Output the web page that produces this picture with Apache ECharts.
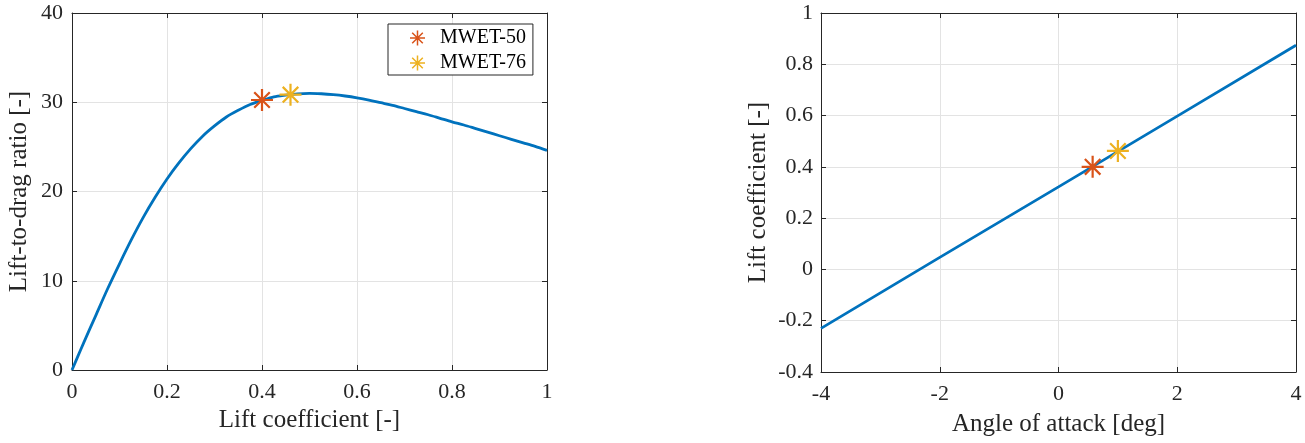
<!DOCTYPE html>
<html>
<head>
<meta charset="utf-8">
<script src="https://cdn.jsdelivr.net/npm/echarts@6/dist/echarts.min.js"></script>
<style>
  html, body { margin: 0; padding: 0; background: #ffffff; }
  #chart { width: 1305px; height: 443px; }
</style>
</head>
<body>
<div id="chart"></div>
<script>
// Lift-to-drag ratio as a function of lift coefficient
const liftCoef = [0, 0.0125, 0.025, 0.05, 0.075, 0.1, 0.125, 0.15, 0.175, 0.2, 0.225, 0.25,
                  0.275, 0.3, 0.325, 0.35, 0.375, 0.4, 0.425, 0.45, 0.475, 0.5, 0.525,
                  0.55, 0.575, 0.6, 0.625, 0.65, 0.675, 0.7, 0.725, 0.75, 0.775, 0.8,
                  0.825, 0.85, 0.875, 0.9, 0.925, 0.95, 0.975, 1.0];
const liftToDrag = [0, 1.55, 3.1, 6.1, 9.1, 11.9, 14.6, 17.1, 19.35, 21.4, 23.2, 24.8,
                    26.2, 27.35, 28.35, 29.1, 29.75, 30.2, 30.6, 30.8, 30.95, 31.0, 30.95,
                    30.85, 30.7, 30.5, 30.25, 29.95, 29.65, 29.3, 28.95, 28.6, 28.2, 27.8,
                    27.45, 27.05, 26.65, 26.25, 25.85, 25.45, 25.05, 24.6];

// Lift curve: lift coefficient against angle of attack
const angleDeg = [-4, -2, 0, 2, 4];
const liftCurve = [-0.23, 0.047, 0.322, 0.598, 0.874];

// Design points
const pointNames = ['MWET-50', 'MWET-76'];
const pointColors = ['#D95319', '#EDB120'];
const pointCL = [0.40, 0.46];
const pointLD = [30.25, 30.85];
const pointAlpha = [0.575, 1.0];
const pointCLalpha = [0.40, 0.462];

// Tick setup
const leftXTicks = { min: 0, max: 1, interval: 0.2 };
const leftYTicks = { min: 0, max: 40, interval: 10 };
const rightXTicks = { min: -4, max: 4, interval: 2 };
const rightYTicks = { min: -0.4, max: 1, interval: 0.2 };

// Eight-armed asterisk built from four thin bars
const asterisk = 'path://' +
  'M-1,-0.1L1,-0.1L1,0.1L-1,0.1Z' +
  'M-0.1,-1L0.1,-1L0.1,1L-0.1,1Z' +
  'M-0.636,-0.778L0.778,0.636L0.636,0.778L-0.778,-0.636Z' +
  'M-0.778,0.636L0.636,-0.778L0.778,-0.636L-0.636,0.778Z';

const FONT = '"Liberation Serif", "DejaVu Serif", serif';
const INK = '#262626';
const GRIDC = '#e3e3e3';

function mainAxis(dim, ticks, gridIndex, name, nameGap, labelMargin) {
  return {
    type: 'value', gridIndex, min: ticks.min, max: ticks.max, interval: ticks.interval,
    position: dim === 'x' ? 'bottom' : 'left',
    name, nameLocation: 'middle', nameGap,
    nameTextStyle: { fontFamily: FONT, fontSize: 25, color: INK },
    axisLine: { show: true, onZero: false, lineStyle: { color: INK, width: 1 } },
    axisTick: { show: true, inside: true, length: 5, lineStyle: { color: INK } },
    axisLabel: { fontFamily: FONT, fontSize: 22, color: INK, margin: labelMargin },
    splitLine: { show: true, lineStyle: { color: GRIDC, width: 1 } }
  };
}
function boxAxis(dim, ticks, gridIndex) {
  return {
    type: 'value', gridIndex, min: ticks.min, max: ticks.max, interval: ticks.interval,
    position: dim === 'x' ? 'top' : 'right',
    axisLine: { show: true, onZero: false, lineStyle: { color: INK, width: 1 } },
    axisTick: { show: true, inside: true, length: 5, lineStyle: { color: INK } },
    axisLabel: { show: false },
    splitLine: { show: false }
  };
}

const series = [
  {
    type: 'line', name: 'L/D', xAxisIndex: 0, yAxisIndex: 0,
    data: liftCoef.map((c, i) => [c, liftToDrag[i]]),
    smooth: 0.3, showSymbol: false, symbol: 'none',
    lineStyle: { color: '#0072BD', width: 2.8 }, z: 2, silent: true
  },
  {
    type: 'line', name: 'CL', xAxisIndex: 2, yAxisIndex: 2,
    data: angleDeg.map((a, i) => [a, liftCurve[i]]),
    showSymbol: false, symbol: 'none',
    lineStyle: { color: '#0072BD', width: 2.8 }, z: 2, silent: true
  }
];
pointNames.forEach((n, i) => {
  series.push({
    type: 'scatter', name: n, xAxisIndex: 0, yAxisIndex: 0,
    data: [[pointCL[i], pointLD[i]]],
    symbol: asterisk, symbolSize: 22, itemStyle: { color: pointColors[i], opacity: 1 }, z: 3
  });
  series.push({
    type: 'scatter', name: n, xAxisIndex: 2, yAxisIndex: 2,
    data: [[pointAlpha[i], pointCLalpha[i]]],
    symbol: asterisk, symbolSize: 22, itemStyle: { color: pointColors[i], opacity: 1 }, z: 3
  });
});

const chart = echarts.init(document.getElementById('chart'), null, { renderer: 'canvas' });
chart.setOption({
  animation: false,
  backgroundColor: '#ffffff',
  grid: [
    { left: 72, top: 13, width: 475, height: 357 },
    { left: 821, top: 13, width: 475, height: 359 }
  ],
  xAxis: [
    mainAxis('x', leftXTicks, 0, 'Lift coefficient [-]', 38, 11),
    boxAxis('x', leftXTicks, 0),
    mainAxis('x', rightXTicks, 1, 'Angle of attack [deg]', 40, 11),
    boxAxis('x', rightXTicks, 1)
  ],
  yAxis: [
    mainAxis('y', leftYTicks, 0, 'Lift-to-drag ratio [-]', 40, 9),
    boxAxis('y', leftYTicks, 0),
    mainAxis('y', rightYTicks, 1, 'Lift coefficient [-]', 50, 8),
    boxAxis('y', rightYTicks, 1)
  ],
  legend: {
    data: pointNames,
    orient: 'vertical',
    left: 388, top: 24,
    padding: [4, 7, 2, 22],
    itemWidth: 15, itemHeight: 15, itemGap: 5,
    backgroundColor: '#ffffff',
    borderColor: INK, borderWidth: 1, borderRadius: 0,
    textStyle: { fontFamily: FONT, fontSize: 20, color: '#000000', lineHeight: 20, padding: [0, 0, 0, 10] },
    selectedMode: false
  },
  series
});
</script>
</body>
</html>
